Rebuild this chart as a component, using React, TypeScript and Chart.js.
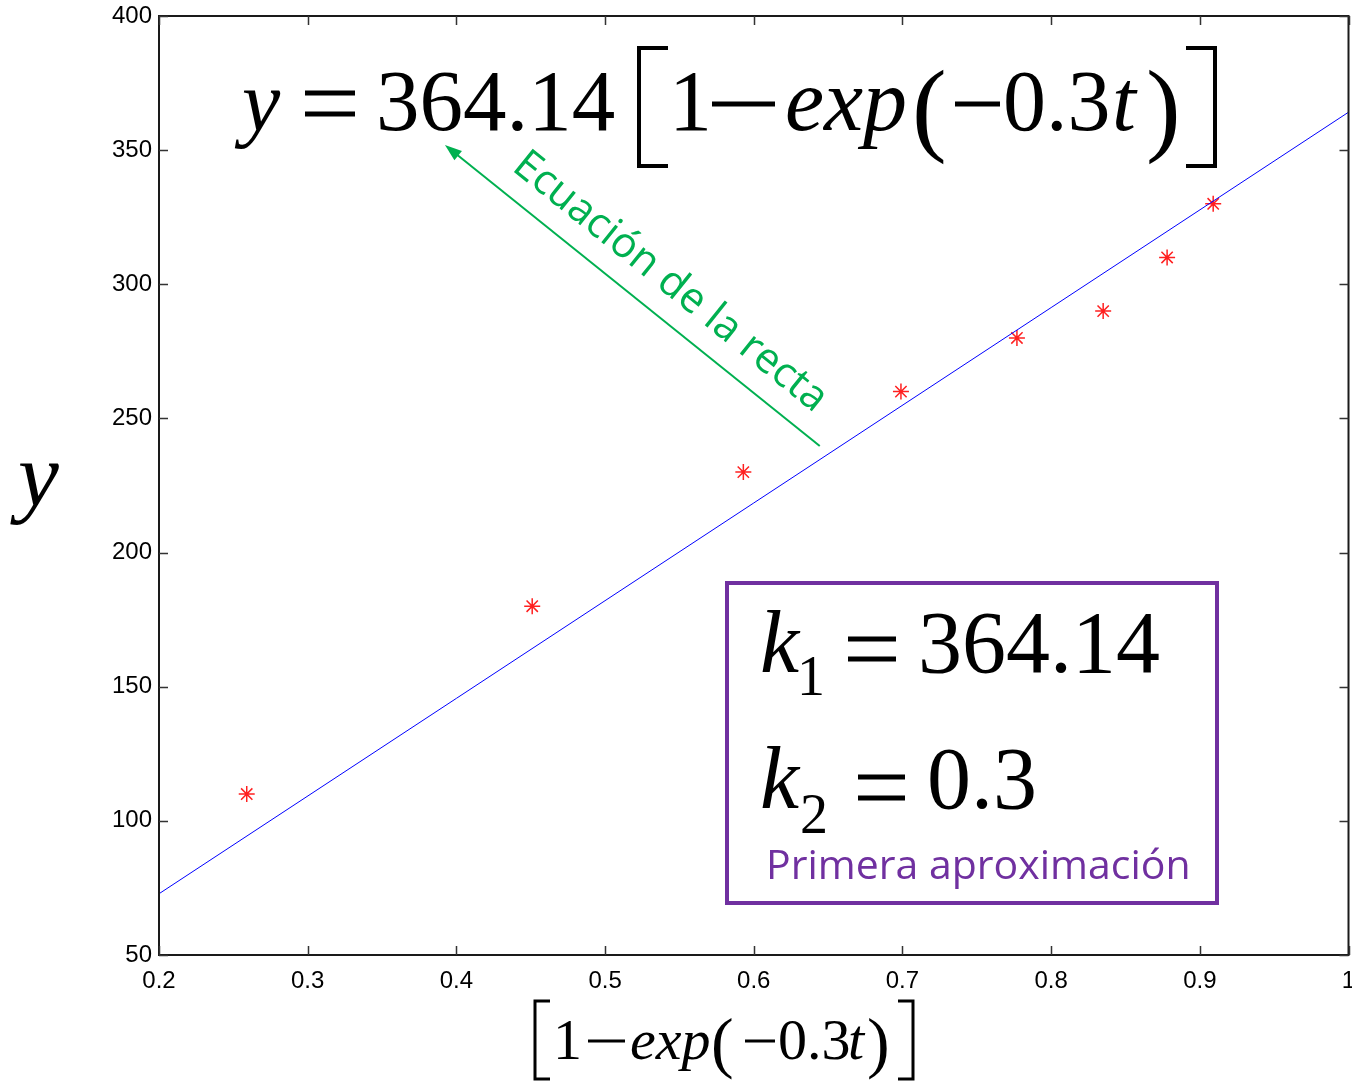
import React, { useEffect, useRef } from "react";
import { Chart, registerables } from "chart.js";

Chart.register(...registerables);

// ---- data ----
const xData = [0.259, 0.451, 0.593, 0.699, 0.777, 0.835, 0.878, 0.909];
const yData = [110, 180, 230, 260, 280, 290, 310, 330];
const fitX = [0.2, 1.0];
const fitY = [72.83, 364.14];
const xTickValues = [0.2, 0.3, 0.4, 0.5, 0.6, 0.7, 0.8, 0.9, 1.0];
const xTickLabels = ["0.2", "0.3", "0.4", "0.5", "0.6", "0.7", "0.8", "0.9", "1"];
const yTickValues = [50, 100, 150, 200, 250, 300, 350, 400];
const yTickLabels = ["50", "100", "150", "200", "250", "300", "350", "400"];
// arrow in data coordinates: tail -> head
const arrowTail = [0.6444, 239.7];
const arrowHead = [0.3923, 351.9];

const SERIF = '"Liberation Serif", "Times New Roman", serif';
const SANS = '"Liberation Sans", Arial, sans-serif';
const CAL = '"Open Sans", "Noto Sans", sans-serif';
const GREEN = "#00B050";
const PURPLE = "#7030A0";

function txt(ctx: CanvasRenderingContext2D, s: string, x: number, yb: number, size: number, italic = false, color = "#000", family = SERIF) {
  ctx.font = `${italic ? "italic " : ""}${size}px ${family}`;
  ctx.fillStyle = color;
  ctx.textAlign = "left";
  ctx.textBaseline = "alphabetic";
  ctx.fillText(s, x, yb);
}

function bar(ctx: CanvasRenderingContext2D, x0: number, x1: number, yc: number, th: number) {
  ctx.fillStyle = "#000";
  ctx.fillRect(x0, yc - th / 2, x1 - x0, th);
}

function eq(ctx: CanvasRenderingContext2D, x0: number, x1: number, y0: number, y1: number, th: number) {
  bar(ctx, x0, x1, y0, th);
  bar(ctx, x0, x1, y1, th);
}

function bracket(ctx: CanvasRenderingContext2D, x0: number, x1: number, top: number, bottom: number, open: boolean, lw: number) {
  ctx.save();
  ctx.strokeStyle = "#000";
  ctx.lineWidth = lw;
  ctx.lineCap = "butt";
  ctx.beginPath();
  if (open) {
    ctx.moveTo(x1, top);
    ctx.lineTo(x0, top);
    ctx.lineTo(x0, bottom);
    ctx.lineTo(x1, bottom);
  } else {
    ctx.moveTo(x0, top);
    ctx.lineTo(x1, top);
    ctx.lineTo(x1, bottom);
    ctx.lineTo(x0, bottom);
  }
  ctx.stroke();
  ctx.restore();
}

const overlay = {
  id: "overlay",
  afterDraw(chart: any) {
    const ctx: CanvasRenderingContext2D = chart.ctx;
    const a = chart.chartArea;
    const xs = chart.scales.x;
    const ys = chart.scales.y;
    ctx.save();
    // frame
    ctx.strokeStyle = "#1a1a1a";
    ctx.lineWidth = 2;
    ctx.strokeRect(a.left, a.top, a.right - a.left, a.bottom - a.top);
    // inner ticks on all sides
    ctx.lineWidth = 1.5;
    ctx.strokeStyle = "#333";
    ctx.beginPath();
    xTickValues.forEach((v) => {
      const px = Math.round(xs.getPixelForValue(v)) + 0.5;
      ctx.moveTo(px, a.bottom);
      ctx.lineTo(px, a.bottom - 9);
      ctx.moveTo(px, a.top);
      ctx.lineTo(px, a.top + 9);
    });
    yTickValues.forEach((v) => {
      const py = Math.round(ys.getPixelForValue(v)) + 0.5;
      ctx.moveTo(a.left, py);
      ctx.lineTo(a.left + 9, py);
      ctx.moveTo(a.right, py);
      ctx.lineTo(a.right - 9, py);
    });
    ctx.stroke();

    // green arrow
    const tx = xs.getPixelForValue(arrowTail[0]);
    const ty = ys.getPixelForValue(arrowTail[1]);
    const hx = xs.getPixelForValue(arrowHead[0]);
    const hy = ys.getPixelForValue(arrowHead[1]);
    const ang = Math.atan2(hy - ty, hx - tx);
    ctx.strokeStyle = GREEN;
    ctx.fillStyle = GREEN;
    ctx.lineWidth = 2;
    ctx.beginPath();
    ctx.moveTo(tx, ty);
    ctx.lineTo(hx - 12 * Math.cos(ang), hy - 12 * Math.sin(ang));
    ctx.stroke();
    ctx.beginPath();
    ctx.moveTo(hx, hy);
    ctx.lineTo(hx - 17 * Math.cos(ang) + 6 * Math.sin(ang), hy - 17 * Math.sin(ang) - 6 * Math.cos(ang));
    ctx.lineTo(hx - 17 * Math.cos(ang) - 6 * Math.sin(ang), hy - 17 * Math.sin(ang) + 6 * Math.cos(ang));
    ctx.closePath();
    ctx.fill();

    // green rotated label
    ctx.save();
    ctx.translate(670, 282);
    ctx.rotate(Math.atan2(ty - hy, tx - hx));
    ctx.font = `42px ${CAL}`;
    ctx.fillStyle = GREEN;
    ctx.textAlign = "center";
    ctx.textBaseline = "middle";
    ctx.fillText("Ecuación de la recta", 0, 0);
    ctx.restore();

    // main equation
    const B = 130;
    txt(ctx, "y", 242, B, 86, true);
    eq(ctx, 305, 355, 93, 114, 5);
    txt(ctx, "364.14", 376, B, 87);
    bracket(ctx, 639, 668, 48, 166, true, 4);
    txt(ctx, "1", 669, B, 86);
    bar(ctx, 712, 775, 104, 5);
    txt(ctx, "exp", 785, B, 88, true);
    txt(ctx, "(", 912, B + 12, 104);
    bar(ctx, 955, 1000, 104, 5);
    txt(ctx, "0.3", 1003, B, 86);
    txt(ctx, "t", 1112, B, 86, true);
    txt(ctx, ")", 1146, B + 12, 104);
    bracket(ctx, 1186, 1215, 48, 166, false, 4);

    // purple box
    ctx.strokeStyle = PURPLE;
    ctx.lineWidth = 4;
    ctx.strokeRect(727, 583, 490, 320);
    txt(ctx, "k", 760, 672, 88, true);
    txt(ctx, "1", 797, 695, 56);
    eq(ctx, 848, 896, 639, 659, 5);
    txt(ctx, "364.14", 918, 672, 88);
    txt(ctx, "k", 760, 808, 88, true);
    txt(ctx, "2", 800, 833, 56);
    eq(ctx, 858, 905, 777, 798, 5);
    txt(ctx, "0.3", 927, 808, 88);
    txt(ctx, "Primera aproximación", 766, 879, 41, false, PURPLE, CAL);

    // y axis title
    txt(ctx, "y", 18, 506, 92, true);

    // x axis title
    const XB = 1059;
    bracket(ctx, 535, 550, 1001, 1079, true, 3);
    txt(ctx, "1", 553, XB, 58);
    bar(ctx, 588, 625, 1041, 3);
    txt(ctx, "exp", 630, XB, 58, true);
    txt(ctx, "(", 711, XB + 6, 68);
    bar(ctx, 745, 775, 1041, 3);
    txt(ctx, "0.3", 778, XB, 58);
    txt(ctx, "t", 848, XB, 58, true);
    txt(ctx, ")", 867, XB + 6, 68);
    bracket(ctx, 898, 913, 1001, 1079, false, 3);

    ctx.restore();
  },
};

export default function App() {
  const ref = useRef<HTMLCanvasElement | null>(null);
  useEffect(() => {
    document.body.style.margin = "0";
    const canvas = ref.current!;
    const chart = new Chart(canvas, {
      type: "scatter",
      data: {
        datasets: [
          {
            label: "fit",
            data: fitX.map((x, i) => ({ x, y: fitY[i] })),
            showLine: true,
            borderColor: "#0000FF",
            borderWidth: 1,
            pointRadius: 0,
            fill: false,
          },
          {
            label: "data",
            data: xData.map((x, i) => ({ x, y: yData[i] })),
            pointStyle: "star",
            pointRadius: 8,
            borderColor: "#FF2020",
            backgroundColor: "#FF2020",
            borderWidth: 1.5,
            showLine: false,
          },
        ],
      },
      options: {
        responsive: false,
        animation: false,
        devicePixelRatio: 1,
        layout: { padding: { top: 16, right: 0, left: 0, bottom: 0 } },
        plugins: { legend: { display: false }, tooltip: { enabled: false } },
        scales: {
          x: {
            type: "linear",
            min: 0.2,
            max: 1.0,
            border: { display: false },
            grid: { display: false, drawTicks: false },
            afterBuildTicks: (s: any) => {
              s.ticks = xTickValues.map((v) => ({ value: v }));
            },
            afterFit: (s: any) => {
              s.height = 126;
              s.paddingLeft = 0;
              s.paddingRight = 0;
            },
            ticks: {
              autoSkip: false,
              maxRotation: 0,
              padding: 12,
              color: "#000",
              font: { family: SANS, size: 24 },
              callback: (_v: any, i: number) => xTickLabels[i],
            },
          },
          y: {
            type: "linear",
            min: 50,
            max: 400,
            border: { display: false },
            grid: { display: false, drawTicks: false },
            afterBuildTicks: (s: any) => {
              s.ticks = yTickValues.map((v) => ({ value: v }));
            },
            afterFit: (s: any) => {
              s.width = 159;
              s.paddingTop = 0;
              s.paddingBottom = 0;
            },
            ticks: {
              autoSkip: false,
              padding: 7,
              color: "#000",
              font: { family: SANS, size: 24 },
              callback: (_v: any, i: number) => yTickLabels[i],
            },
          },
        },
      },
      plugins: [overlay],
    });
    return () => chart.destroy();
  }, []);
  return (
    <div style={{ position: "absolute", left: 0, top: 0, width: 1352, height: 1081, overflow: "hidden" }}>
      <canvas ref={ref} width={1358} height={1081} />
    </div>
  );
}
